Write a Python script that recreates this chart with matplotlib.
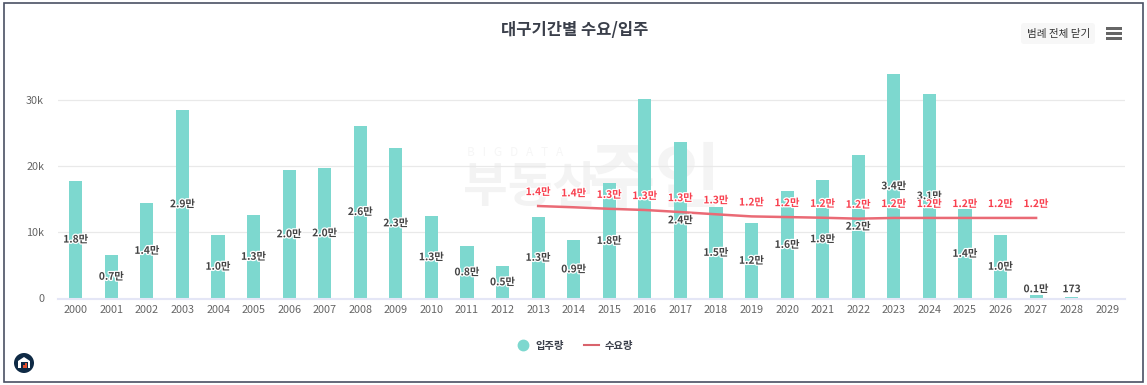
import matplotlib
matplotlib.use("Agg")
import matplotlib.pyplot as plt
import matplotlib.patheffects as pe
from matplotlib.lines import Line2D
from matplotlib.patches import Circle, FancyBboxPatch, Polygon, Rectangle

plt.rcParams["font.family"] = ["Noto Sans CJK KR", "DejaVu Sans"]

years = list(range(2000, 2030))

# supply (bars)
supply = [17800, 6570, 14400, 28470, 9600, 12600, 19400, 19700, 26130, 22700,
          12460, 7900, 4900, 12300, 8800, 17400, 30100, 23600, 13800, 11400,
          16200, 17900, 21700, 33900, 30900, 13500, 9600, 530, 173, 0]
# 2016 shows no label of its own in the reference, the red one covers it
supply_labels = ["1.8만", "0.7만", "1.4만", "2.9만", "1.0만", "1.3만", "2.0만", "2.0만", "2.6만", "2.3만",
                 "1.3만", "0.8만", "0.5만", "1.3만", "0.9만", "1.8만", "", "2.4만", "1.5만", "1.2만",
                 "1.6만", "1.8만", "2.2만", "3.4만", "3.1만", "1.4만", "1.0만", "0.1만", "173", ""]

# demand (line)
demand_years = list(range(2013, 2028))
demand = [13970, 13780, 13550, 13370, 13060, 12720, 12400, 12300,
          12200, 12060, 12170, 12170, 12170, 12170, 12170]
demand_labels = ["1.4만", "1.4만", "1.3만", "1.3만", "1.3만", "1.3만", "1.2만", "1.2만",
                 "1.2만", "1.2만", "1.2만", "1.2만", "1.2만", "1.2만", "1.2만"]

W, H = 1147, 385
fig = plt.figure(figsize=(W / 100, H / 100), dpi=100)


def fx(px):
    return px / W


def fy(px):
    return 1 - px / H


# faint watermark sits on its own axes behind the chart
bg = fig.add_axes([0, 0, 1, 1], zorder=0)
bg.set_axis_off()
bg.text(fx(467), fy(153), "B   I   G   D   A   T   A", fontsize=8.5, color="#f6f6f6", va="center", ha="left")
bg.text(fx(463), fy(187), "부동산", fontsize=35, color="#f3f3f3", va="center", ha="left", fontweight="bold")
bg.text(fx(588), fy(181), "주인", fontsize=52, color="#f4f4f4", va="center", ha="left", fontweight="bold")

# plot area in reference pixels
left, right, top, bottom = 58, 1125, 60, 298.5
ax = fig.add_axes([fx(left), fy(bottom), fx(right - left), fy(top) - fy(bottom)], zorder=1)
ax.set_xlim(1999.5, 2029.5)
ax.set_ylim(0, (bottom - top) / 66.2 * 10000)
ax.patch.set_alpha(0)

for s in ["top", "right", "left"]:
    ax.spines[s].set_visible(False)
ax.spines["bottom"].set_color("#e4e6f6")
ax.spines["bottom"].set_linewidth(1.5)

ax.set_yticks([0, 10000, 20000, 30000], ["0", "10k", "20k", "30k"])
ax.set_xticks(years, [str(y) for y in years])
ax.tick_params(length=0, labelsize=7.8, labelcolor="#666666")
ax.tick_params(axis="x", pad=5)
ax.tick_params(axis="y", pad=10)
ax.grid(axis="y", color="#e9e9e9", linewidth=0.9)
ax.set_axisbelow(True)

ax.bar(years, supply, width=0.37, color="#7dd8cf", zorder=2)
ax.plot(demand_years, demand, color="#ea6a75", linewidth=1.8, zorder=3)

halo = [pe.withStroke(linewidth=1.8, foreground="white")]
for y, v, t in zip(years, supply, supply_labels):
    if t:
        ax.annotate(t, (y, max(v / 2, 1400)), ha="center", va="center", fontsize=7.4,
                    color="#444444", fontweight="bold", path_effects=halo, zorder=5)
for y, v, t in zip(demand_years, demand, demand_labels):
    ax.annotate(t, (y, v), xytext=(0, 10), textcoords="offset points", ha="center", va="center",
                fontsize=7.4, color="#f8404f", fontweight="bold", path_effects=halo, zorder=6)

# title
fig.text(fx(574.5), fy(29.5), "대구기간별 수요/입주", fontsize=11.9, color="#3a3f4a",
         ha="center", va="center", fontweight="bold")

# legend
handles = [Line2D([], [], marker="o", linestyle="none", color="#7dd8cf", markersize=7.5),
           Line2D([], [], color="#d9636c", linewidth=1.5)]
leg = fig.legend(handles, ["입주량", "수요량"], loc="center", bbox_to_anchor=(fx(574), fy(346)),
                 ncol=2, frameon=False, fontsize=7.4, handlelength=1.5, columnspacing=1.9, handletextpad=0.5)
for t in leg.get_texts():
    t.set_color("#3a3f4a")
    t.set_fontweight("bold")

# button and menu icon at the top right
fig.add_artist(FancyBboxPatch((1021, H - 44), 74, 21, boxstyle="round,pad=0,rounding_size=3",
                              transform=None, facecolor="#f7f7f7", edgecolor="none"))
fig.text(fx(1059), fy(33.5), "범례 전체 닫기", fontsize=7.6, color="#333333", ha="center", va="center",
         fontweight="medium")
for py in [28.5, 33.5, 38.5]:
    fig.add_artist(Rectangle((1106, H - py - 1.2), 16, 2.4, transform=None, facecolor="#666666", edgecolor="none"))

# logo at the bottom left
cx, cy = 24, H - 363
fig.add_artist(Circle((cx, cy), 10, transform=None, facecolor="#0f2a45", edgecolor="none"))
fig.add_artist(Polygon([(cx - 6, cy - 5), (cx - 6, cy + 2), (cx, cy + 6), (cx + 6, cy + 2), (cx + 6, cy - 5)],
                       closed=True, transform=None, facecolor="white", edgecolor="none"))
fig.add_artist(Rectangle((cx - 3.5, cy - 5), 7, 6, transform=None, facecolor="#0f2a45", edgecolor="none"))
fig.add_artist(Rectangle((cx - 1, cy - 5), 1.8, 3, transform=None, facecolor="#e2502f", edgecolor="none"))
fig.add_artist(Rectangle((cx + 1.4, cy - 5), 1.8, 5, transform=None, facecolor="#e2502f", edgecolor="none"))

# outer frame
fig.add_artist(Rectangle((4, H - 382), 1139, 379, transform=None, facecolor="none",
                         edgecolor="#4a5064", linewidth=1.2))

fig.savefig("out.png", dpi=100)
